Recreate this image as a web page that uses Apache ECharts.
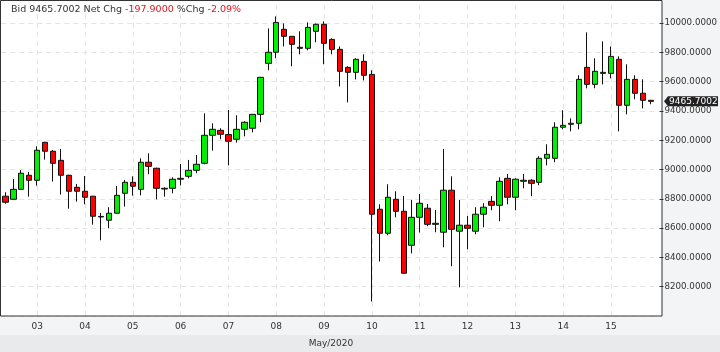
<!DOCTYPE html>
<html><head><meta charset="utf-8">
<script src="https://cdn.jsdelivr.net/npm/echarts@6/dist/echarts.min.js"></script>
<style>html,body{margin:0;padding:0;background:#f3f4f6;}#c{width:720px;height:352px;}</style>
</head><body><div id="c"></div>
<script>
const categories = [
'02 08','02 12','02 16','02 20',
'03 00','03 04','03 08','03 12','03 16','03 20',
'04 00','04 04','04 08','04 12','04 16','04 20',
'05 00','05 04','05 08','05 12','05 16','05 20',
'06 00','06 04','06 08','06 12','06 16','06 20',
'07 00','07 04','07 08','07 12','07 16','07 20',
'08 00','08 04','08 08','08 12','08 16','08 20',
'09 00','09 04','09 08','09 12','09 16','09 20',
'10 00','10 04','10 08','10 12','10 16','10 20',
'11 00','11 04','11 08','11 12','11 16','11 20',
'12 00','12 04','12 08','12 12','12 16','12 20',
'13 00','13 04','13 08','13 12','13 16','13 20',
'14 00','14 04','14 08','14 12','14 16','14 20',
'15 00','15 04','15 08','15 12','15 16','15 20'
];
const openV = [8818,8797,8865,8961,8927,9186,9125,9063,8961,8879,8852,8818,8680,8654,8702,8838,8913,8865,9050,9009,8872,8872,8934,8954,8995,9043,9234,9268,9239,9207,9275,9282,9377,9725,9801,9958,9910,9835,9828,9944,9992,9889,9821,9698,9664,9739,9650,8729,8565,8797,8715,8483,8674,8736,8626,8572,8859,8579,8620,8579,8695,8783,8756,8940,8811,8920,8927,8913,9077,9077,9289,9309,9316,9698,9582,9657,9657,9753,9439,9616,9521,9473];
const closeV = [8777,8865,8975,8927,9132,9125,9043,8961,8852,8852,8811,8681,8676,8702,8824,8913,8886,9050,9022,8872,8867,8934,8940,8995,9036,9234,9275,9241,9193,9275,9323,9377,9630,9801,10005,9910,9855,9828,9971,9992,9862,9821,9671,9664,9753,9644,8695,8565,8811,8715,8292,8674,8770,8626,8633,8859,8592,8620,8599,8695,8743,8756,8920,8811,8934,8927,8906,9077,9104,9289,9302,9316,9616,9582,9671,9664,9773,9439,9616,9521,9473,9465.7002];
const lowV = [8767,8792,8862,8815,8890,9068,8918,8829,8733,8781,8763,8624,8517,8599,8700,8747,8822,8824,8968,8797,8815,8838,8893,8940,8975,9036,9129,9207,9029,9184,9227,9254,9323,9678,9760,9841,9705,9787,9814,9869,9719,9787,9568,9459,9616,9609,8099,8372,8551,8674,8290,8428,8570,8613,8572,8469,8340,8196,8456,8558,8606,8722,8647,8763,8722,8872,8818,8893,9029,9050,9275,9261,9275,9555,9555,9582,9623,9261,9377,9480,9418,9446];
const highV = [8845,8936,8997,8984,9159,9190,9134,9141,8965,8902,8956,8820,8704,8743,8888,8929,8954,9077,9111,9013,8879,8947,9038,9066,9100,9384,9316,9282,9407,9371,9330,9380,9633,9964,10046,9998,9912,9944,10005,9998,10012,9896,9841,9705,9760,9787,9678,8763,8900,8852,8820,8793,8833,8765,8724,9141,8954,8793,8683,8743,8770,8818,8947,8970,8940,8970,8934,9091,9173,9323,9405,9350,9644,9937,9760,9876,9841,9773,9719,9644,9616,9473];
const yTicks = {min: 8000, max: 10158, interval: 200};
const lastPrice = 9465.7002;
const header = {bid: '9465.7002', netChg: '-197.9000', pctChg: '-2.09%'};
const monthLabel = 'May/2020';

const candleData = categories.map((c, i) => [openV[i], closeV[i], lowV[i], highV[i]]);
const dayLines = categories.filter(c => c.endsWith(' 00')).map(c => ({xAxis: c}));

const chart = echarts.init(document.getElementById('c'), null, {renderer: 'canvas'});
const font = 'DejaVu Sans';
const baseGraphic = [
  {type: 'rect', z: -10, silent: true, shape: {x: 0, y: 0, width: 662, height: 316}, style: {fill: '#ffffff'}},
  {type: 'rect', z: -10, silent: true, shape: {x: 0, y: 335, width: 720, height: 17}, style: {fill: '#e9eaec'}},
  {type: 'rect', z: 100, silent: true, shape: {x: 0.5, y: 0.5, width: 661.5, height: 315.5}, style: {fill: 'none', stroke: '#333', lineWidth: 1}},
  {type: 'text', z: 100, silent: true, x: 331, y: 343.5, style: {text: monthLabel, fill: '#333', font: '9px "DejaVu Sans"', align: 'center', verticalAlign: 'middle'}}
];
chart.setOption({
  animation: false,
  backgroundColor: '#f3f4f6',
  grid: {left: 1.3, top: 0, width: 656, height: 316},
  xAxis: {
    type: 'category', data: categories, boundaryGap: true,
    axisLine: {show: false}, axisTick: {show: false}, splitLine: {show: false},
    axisLabel: {
      interval: (idx, val) => val.endsWith(' 00'),
      formatter: v => v.slice(0, 2),
      color: '#333', fontFamily: font, fontSize: 9, margin: 6
    }
  },
  yAxis: {
    type: 'value', position: 'right', offset: 4.7,
    min: yTicks.min, max: yTicks.max, interval: yTicks.interval,
    axisLine: {show: false},
    axisTick: {show: true, length: 4, lineStyle: {color: '#333'}},
    axisLabel: {
      showMinLabel: false, showMaxLabel: false,
      formatter: v => v.toFixed(4), color: '#333', fontFamily: font, fontSize: 8.7, margin: 5
    },
    splitLine: {show: true, lineStyle: {color: '#e4e4e4', type: [5, 4], width: 1}}
  },
  title: {
    left: 11, top: 5, padding: 0,
    text: '{a|Bid ' + header.bid + ' Net Chg }{r|' + header.netChg + '}{a| %Chg }{r|' + header.pctChg + '}',
    textStyle: {
      fontWeight: 'normal',
      rich: {
        a: {color: '#333', fontFamily: font, fontSize: 9.5, fontWeight: 'normal'},
        r: {color: '#e0141e', fontFamily: font, fontSize: 9.5, fontWeight: 'normal'}
      }
    }
  },
  series: [{
    type: 'candlestick',
    data: candleData,
    barWidth: 6,
    itemStyle: {color: '#00ee00', color0: '#ff0000', borderColor: '#111', borderColor0: '#111', borderColorDoji: '#111', borderWidth: 1},
    markLine: {
      silent: true, symbol: 'none', z: 1, animation: false,
      label: {show: false},
      lineStyle: {color: '#e4e4e4', type: [5, 4], width: 1},
      emphasis: {disabled: true},
      data: dayLines
    }
  }],
  graphic: baseGraphic
});

const py = chart.convertToPixel({yAxisIndex: 0}, lastPrice);
chart.setOption({
  graphic: baseGraphic.concat([
    {type: 'polygon', z: 110, silent: true, shape: {points: [[664, py], [668, py - 5], [718, py - 5], [718, py + 5], [668, py + 5]]}, style: {fill: '#222'}},
    {type: 'text', z: 111, silent: true, x: 669, y: py, style: {text: lastPrice.toFixed(4), fill: '#fff', font: '9px "DejaVu Sans"', verticalAlign: 'middle'}}
  ])
}, {replaceMerge: ['graphic']});
</script></body></html>
